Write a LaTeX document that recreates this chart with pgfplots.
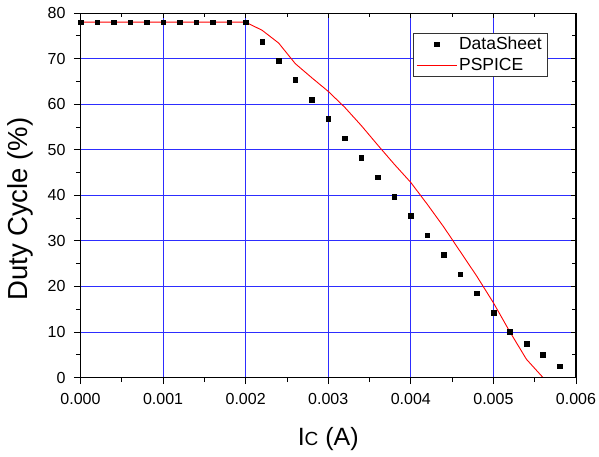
\documentclass[border=0pt]{standalone}
\usepackage{pgfplots}
\pgfplotsset{compat=1.18}
\usepackage{fontspec}
\setmainfont{Liberation Sans}
\definecolor{gridblue}{RGB}{45,45,255}

\pgfplotsset{
    dotkey/.style={legend image code/.code={
        \path[draw=none] (0pt,0pt) -- (40pt,0pt);
        \draw[black, fill=black, mark=square*, mark size=2.3pt, only marks] plot coordinates {(20pt,0pt)};}},
    linekey/.style={legend image code/.code={
        \draw[draw=red, line width=1.1pt] (0pt,0pt) -- (40pt,0pt);}},
}

\begin{document}
\begin{tikzpicture}
    % page frame, same proportions as the reference
    \path[use as bounding box] (-80.5pt,-78.5pt) rectangle (518.5pt,377.5pt);
    \begin{axis}[
        at={(0,0)}, anchor=south west,
        scale only axis,
        width=495.5pt, height=364.5pt,
        xmin=0, xmax=0.006, ymin=0, ymax=80,
        xtick={0,0.001,...,0.006},
        ytick={0,10,...,80},
        minor x tick num=1, minor y tick num=1,
        scaled x ticks=false,
        xticklabel style={/pgf/number format/.cd, fixed, fixed zerofill, precision=3},
        /pgf/number format/assume math mode=true,
        ticklabel style={font=\fontsize{16}{19}\selectfont},
        xticklabel shift=6pt, yticklabel shift=5pt,
        tick align=outside,
        xtick pos=left, ytick pos=left,
        major tick length=6.5pt, minor tick length=4.5pt,
        tick style={black, line width=0.8pt},
        axis line style={line width=1pt},
        grid=major,
        major grid style={gridblue, line width=0.7pt},
        xlabel={\fontsize{25}{28}\selectfont I{\fontsize{19}{22}\selectfont C} (A)},
        ylabel={\fontsize{27.5}{30}\selectfont Duty Cycle (\%)},
        xlabel style={at={(axis description cs:0.5,-0.1852)}, anchor=base, inner sep=0pt},
        ylabel style={at={(axis description cs:-0.0959,0.462)}, anchor=south, inner sep=0pt},
        legend style={at={(0.9415,0.945)}, anchor=north east,
            font=\fontsize{17.5}{20}\selectfont, draw=black!80,
            inner xsep=3pt, inner ysep=2pt, row sep=3pt},
        legend cell align=left,
    ]
    \addplot[only marks, mark=square*, mark size=2.3pt, black, dotkey]
        coordinates {
        (0.0000,78) (0.0002,78) (0.0004,78) (0.0006,78) (0.0008,78)
        (0.0010,78) (0.0012,78) (0.0014,78) (0.0016,78) (0.0018,78)
        (0.0020,78) (0.0022,73.7) (0.0024,69.5) (0.0026,65.3) (0.0028,61.0)
        (0.0030,56.8) (0.0032,52.5) (0.0034,48.3) (0.0036,44.0) (0.0038,39.7)
        (0.0040,35.5) (0.0042,31.2) (0.0044,27.0) (0.0046,22.7) (0.0048,18.5)
        (0.0050,14.2) (0.0052,10.0) (0.0054,7.4) (0.0056,5.0) (0.0058,2.5)
    };
    \addlegendentry{DataSheet}
    \addplot[red, line width=0.9pt, linekey]
        coordinates {
        (0.0000,78) (0.0020,78) (0.0022,76.2) (0.0024,73.4) (0.0026,68.9)
        (0.0028,65.8) (0.0030,62.8) (0.0032,59.3) (0.0034,55.3) (0.0036,51.0)
        (0.0038,46.8) (0.0040,42.8) (0.0042,38.0) (0.0044,33.0) (0.0046,27.6)
        (0.0048,22.2) (0.0050,16.4) (0.0052,10.0) (0.0054,4.0) (0.0056,0)
        (0.0060,0)
    };
    \addlegendentry{PSPICE}
    \end{axis}
    % mirrored ticks on top and right, pointing inward
    \begin{axis}[
        at={(0,0)}, anchor=south west,
        scale only axis,
        width=495.5pt, height=364.5pt,
        xmin=0, xmax=0.006, ymin=0, ymax=80,
        xtick={0,0.001,...,0.006},
        ytick={0,10,...,80},
        minor x tick num=1, minor y tick num=1,
        xticklabels={}, yticklabels={},
        scaled x ticks=false,
        tick align=inside,
        xtick pos=right, ytick pos=right,
        major tick length=5pt, minor tick length=4pt,
        tick style={black, line width=0.8pt},
        axis line style={line width=1pt},
    ]
    \end{axis}
\end{tikzpicture}
\end{document}
